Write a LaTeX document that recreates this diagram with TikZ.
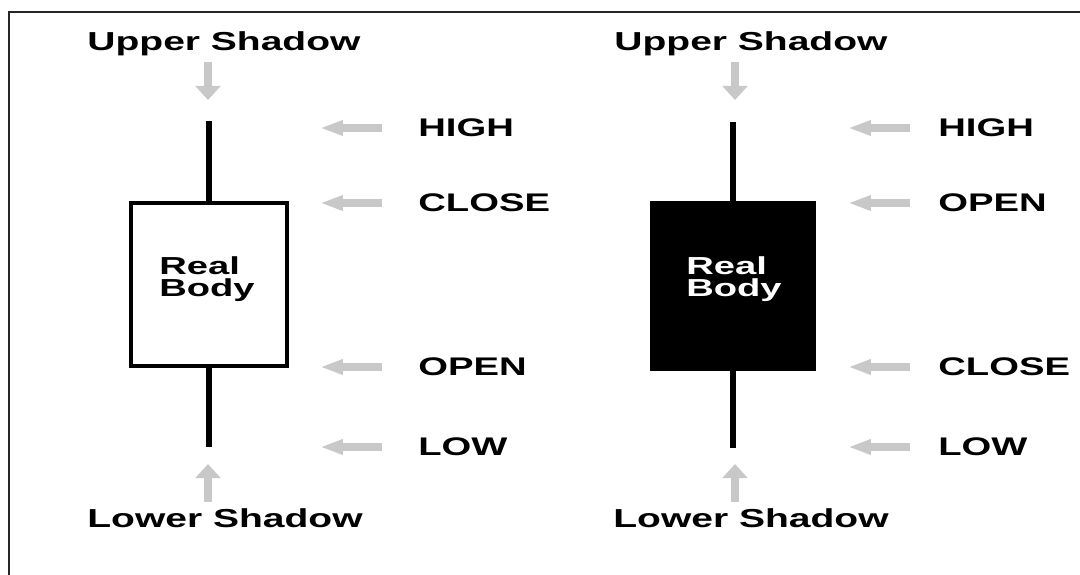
\documentclass[tikz,border=0pt]{standalone}
\usepackage{fontspec}
\setmainfont{Liberation Sans}
\usepackage{graphicx}
\usetikzlibrary{arrows.meta}
\definecolor{arrowgray}{HTML}{C8C8C8}
\newcommand{\wide}[1]{\scalebox{1.5}[1]{#1}}
\newcommand{\widebody}[1]{\scalebox{1.55}[1]{#1}}
\begin{document}
\begin{tikzpicture}[x=0.02cm,y=-0.02cm,
  lbl/.style={inner sep=0pt, anchor=west, font=\bfseries\fontsize{14.5}{16}\selectfont},
  shadowtxt/.style={inner sep=0pt, font=\bfseries\fontsize{14.8}{16}\selectfont},
  bodytxt/.style={inner sep=0pt, align=left, font=\bfseries\fontsize{14}{12.5}\selectfont},
  wick/.style={line width=3.2pt, line cap=butt},
  candlebox/.style={draw, line width=2.8pt, minimum width=3.12cm, minimum height=3.26cm, inner sep=0pt},
  harrow/.style={arrowgray, line width=4pt, -{Triangle[length=13pt, width=8pt]}},
  varrow/.style={arrowgray, line width=5pt, -{Triangle[length=8pt, width=14pt]}}]
\useasboundingbox (0,0) rectangle (1080,575);
% outer frame (top and left edges)
\draw[line width=1.2pt, black!85] (1080,12) -- (9,12) -- (9,575);

% ---- bullish candle ----
\node[candlebox, fill=white] (bodyL) at (209,284.5) {};
\node[bodytxt] (txtL) at (207,279) {\widebody{Real}\\\widebody{Body}};
\coordinate (highL) at (209,121);
\coordinate (lowL) at (209,447);
\draw[wick] (bodyL.north) -- (highL);
\draw[wick] (bodyL.south) -- (lowL);

\node[shadowtxt] (upL) at (224,44) {\wide{Upper Shadow}};
\node[shadowtxt] (dnL) at (225,518) {\wide{Lower Shadow}};
\coordinate (uaL1) at (208,62);  \coordinate (uaL2) at (208,100);
\coordinate (laL1) at (208,502); \coordinate (laL2) at (208,464);
\draw[varrow] (uaL1) -- (uaL2);
\draw[varrow] (laL1) -- (laL2);

\node[lbl] (hL) at (418,128) {\wide{HIGH}};
\node[lbl] (cL) at (418,203) {\wide{CLOSE}};
\node[lbl] (oL) at (418,367) {\wide{OPEN}};
\node[lbl] (lL) at (418,447) {\wide{LOW}};
\foreach \n/\y in {hL/128,cL/203,oL/367,lL/447}{
  \coordinate (t\n) at (382,\y);
  \coordinate (p\n) at (320,\y);
  \draw[harrow] (t\n) -- (p\n);
}

% ---- bearish candle ----
\node[candlebox, fill=black, minimum width=3.24cm, minimum height=3.32cm] (bodyR) at (733,286) {};
\node[bodytxt, text=white] (txtR) at (734,279) {\widebody{Real}\\\widebody{Body}};
\coordinate (highR) at (733,122);
\coordinate (lowR) at (733,448);
\draw[wick] (bodyR.north) -- (highR);
\draw[wick] (bodyR.south) -- (lowR);

\node[shadowtxt] (upR) at (751,44) {\wide{Upper Shadow}};
\node[shadowtxt] (dnR) at (751,518) {\wide{Lower Shadow}};
\coordinate (uaR1) at (735,62);  \coordinate (uaR2) at (735,100);
\coordinate (laR1) at (735,502); \coordinate (laR2) at (735,464);
\draw[varrow] (uaR1) -- (uaR2);
\draw[varrow] (laR1) -- (laR2);

\node[lbl] (hR) at (938,128) {\wide{HIGH}};
\node[lbl] (oR) at (938,203) {\wide{OPEN}};
\node[lbl] (cR) at (938,367) {\wide{CLOSE}};
\node[lbl] (lR) at (938,447) {\wide{LOW}};
\foreach \n/\y in {hR/128,oR/203,cR/367,lR/447}{
  \coordinate (t\n) at (910,\y);
  \coordinate (p\n) at (848,\y);
  \draw[harrow] (t\n) -- (p\n);
}
\end{tikzpicture}
\end{document}
